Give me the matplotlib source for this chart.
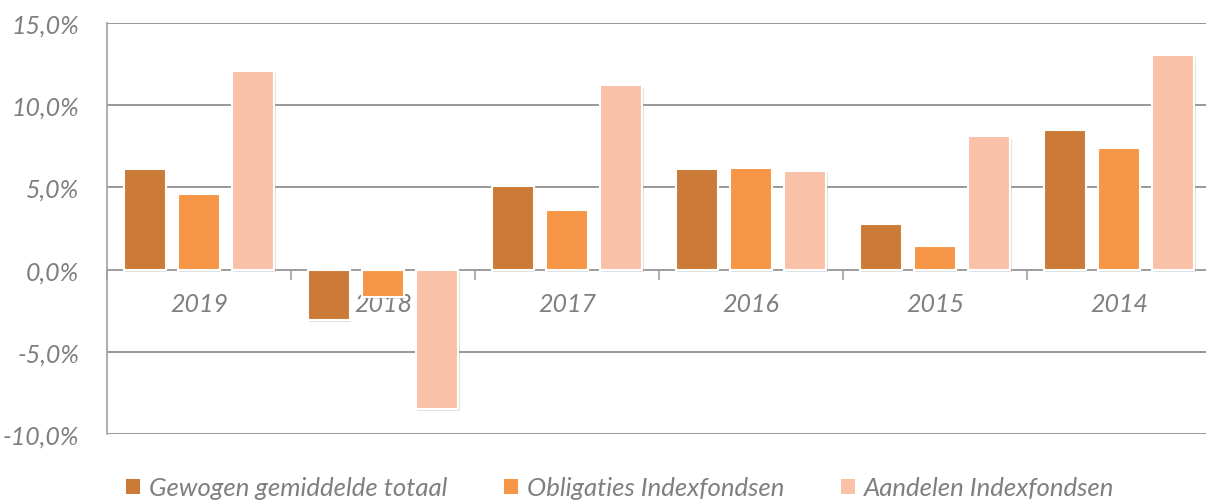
import matplotlib.pyplot as plt
import matplotlib.patheffects as pe
import numpy as np

# data (in %)
jaren = ['2019', '2018', '2017', '2016', '2015', '2014']
gewogen = [6.1, -3.05, 5.1, 6.1, 2.75, 8.5]
obligaties = [4.6, -1.65, 3.6, 6.15, 1.45, 7.4]
aandelen = [12.1, -8.5, 11.2, 6.0, 8.1, 13.05]
series_namen = ['Gewogen gemiddelde totaal', 'Obligaties Indexfondsen', 'Aandelen Indexfondsen']
kleuren = ['#CC7A38', '#F79646', '#F9C2A8']

grijs = '#7F7F7F'
plt.rcParams['font.family'] = ['Lato', 'DejaVu Sans']

fig = plt.figure(figsize=(12.06, 5.02), dpi=100)
W, H = 1206, 502
ax = fig.add_axes([107 / W, 1 - 435 / H, (1211 - 107) / W, (435 - 24) / H])

x = np.arange(len(jaren))
breedte = 0.229
stap = 0.294
schaduw = [pe.SimplePatchShadow(offset=(1, -1.5), shadow_rgbFace='#888888', alpha=0.25), pe.Normal()]
for k, (vals, naam, kl) in enumerate(zip([gewogen, obligaties, aandelen], series_namen, kleuren)):
    bars = ax.bar(x + (k - 1) * stap, vals, breedte, color=kl, edgecolor='white', linewidth=1.5,
                  label=naam, zorder=3)
    for b in bars:
        b.set_path_effects(schaduw)

ax.set_xlim(-0.5, len(jaren) - 0.5)
ax.set_ylim(-10, 15)
ax.set_yticks([-10, -5, 0, 5, 10, 15])
ax.set_yticklabels([('%.1f%%' % v).replace('.', ',') for v in [-10, -5, 0, 5, 10, 15]])
ax.yaxis.grid(True, color='#868686', linewidth=1.2, zorder=0)
ax.tick_params(axis='y', length=0, pad=20, labelsize=18, labelcolor=grijs)
for t in ax.get_yticklabels():
    t.set_fontstyle('italic')

for s in ['top', 'right']:
    ax.spines[s].set_visible(False)
ax.spines['left'].set_color('#A0A0A0')
ax.spines['left'].set_linewidth(1.2)
ax.spines['bottom'].set_position(('data', 0))
ax.spines['bottom'].set_color('#A0A0A0')
ax.spines['bottom'].set_linewidth(1.2)

ax.set_xticks(np.arange(len(jaren) + 1) - 0.5)
ax.set_xticklabels([])
ax.tick_params(axis='x', which='major', length=7, width=1.2, color='#A0A0A0', direction='out')
ax.set_xticks(x, minor=True)
ax.set_xticklabels(jaren, minor=True, fontsize=18, color=grijs, fontstyle='italic')
ax.tick_params(axis='x', which='minor', length=0, pad=16)

leg = fig.legend(loc='center', bbox_to_anchor=(0.514, 1 - 489 / H), ncol=3, frameon=False,
                 fontsize=18.5, handlelength=0.55, handleheight=0.55, handletextpad=0.35,
                 columnspacing=2.2)
for t in leg.get_texts():
    t.set_color(grijs)
    t.set_fontstyle('italic')
for h in leg.legend_handles:
    h.set_path_effects([])
    h.set_linewidth(0)

fig.savefig('out.png', dpi=100)
